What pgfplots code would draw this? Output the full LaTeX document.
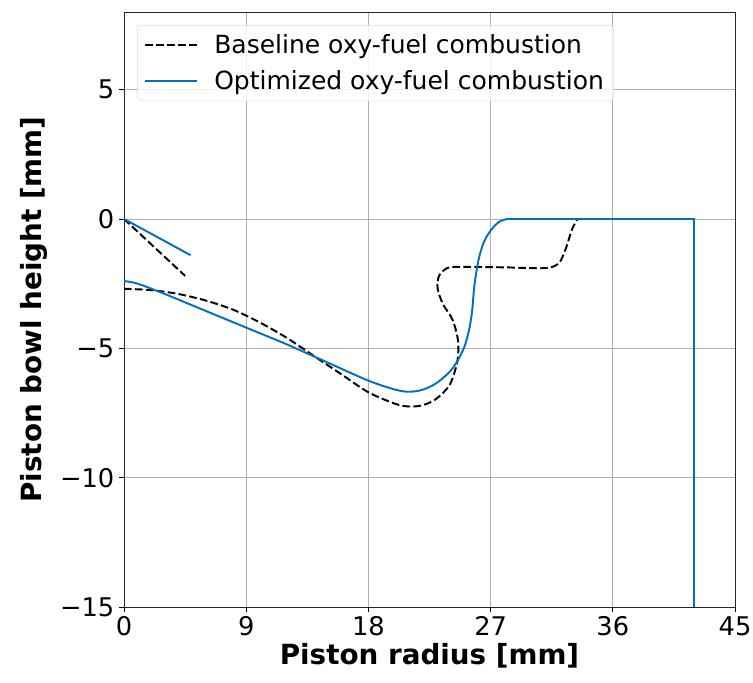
\documentclass[border=0pt]{standalone}
\usepackage{pgfplots}
\pgfplotsset{compat=1.18}
\usepackage{fontspec}
\setmainfont{DejaVu Sans}
\definecolor{optblue}{RGB}{0,114,189}
\definecolor{gridgray}{RGB}{176,176,176}
\begin{document}
\begin{tikzpicture}
\begin{axis}[
  scale only axis,
  width=439.9pt, height=428.4pt,
  xmin=0, xmax=45, ymin=-15, ymax=8,
  xtick={0,9,18,27,36,45},
  ytick={-15,-10,-5,0,5},
  yticklabels={−15,−10,−5,0,5},
  /pgf/number format/assume math mode=true,
  tick label style={font=\fontsize{18.5}{22}\selectfont},
  xlabel={Piston radius [mm]},
  ylabel={Piston bowl height [mm]},
  label style={font=\fontsize{20}{24}\selectfont\bfseries},
  xlabel style={yshift=2pt},
  ylabel style={yshift=2pt},
  grid=major,
  major grid style={gridgray, line width=0.6pt},
  tick style={black, line width=0.6pt},
  xtick pos=bottom, ytick pos=left,
  tick align=outside,
  major tick length=3.5pt,
  axis line style={line width=0.7pt, black!85},
  legend style={at={(rel axis cs:0,1)}, anchor=north west,
    xshift=9.4pt, yshift=-9.4pt,
    draw=gray!30, rounded corners=3pt,
    fill=white, fill opacity=0.8, text opacity=1, font=\fontsize{18}{21}\selectfont,
    row sep=7pt, inner xsep=5pt, inner ysep=4.5pt,
    /tikz/every odd column/.append style={column sep=10pt}},
  legend cell align=left,
  legend image code/.code={\draw[#1] (0pt,0pt) -- (37pt,0pt);},
]
% baseline
\addplot[black, dash pattern=on 5.5pt off 2.4pt, line width=1.4pt, smooth, tension=0.5] coordinates {
(0,-2.7) (2,-2.75) (4,-2.9) (6,-3.15) (8,-3.5) (10,-4.0) (12,-4.6) (14,-5.3) (16,-6.0) (18,-6.7) (20,-7.15) (21,-7.25) (22,-7.2) (23,-6.95) (24,-6.4) (24.55,-5.5) (24.6,-4.7) (24.2,-3.9) (23.5,-3.3) (23.1,-2.7) (23.2,-2.2) (23.8,-1.9) (24.7,-1.85) (28,-1.87) (31,-1.9) (32,-1.72) (32.5,-1.2) (33,-0.4) (33.4,0)
};
\addlegendentry{Baseline oxy-fuel combustion}
\addplot[black, dash pattern=on 5.5pt off 2.4pt, line width=1.4pt, forget plot] coordinates {(33.4,0) (42,0) (42,-15)};
\addplot[black, dash pattern=on 5.5pt off 2.4pt, line width=1.4pt, forget plot] coordinates {(0,0) (4.5,-2.2)};
% optimized
\addplot[optblue, line width=1.4pt, smooth, tension=0.5] coordinates {
(0,-2.4) (1,-2.5) (3,-2.9) (6,-3.55) (9,-4.2) (12,-4.85) (15,-5.55) (18,-6.25) (20,-6.6) (21,-6.68) (22,-6.6) (23,-6.35) (24,-5.9) (24.6,-5.45) (25.1,-4.9) (25.45,-4.2) (25.65,-3.5) (25.8,-2.6) (26.1,-1.6) (26.5,-0.9) (27,-0.45) (27.6,-0.12) (28.2,0)
};
\addlegendentry{Optimized oxy-fuel combustion}
\addplot[optblue, line width=1.4pt, forget plot] coordinates {(28.2,0) (42,0) (42,-15)};
\addplot[optblue, line width=1.4pt, forget plot] coordinates {(0,0) (4.9,-1.4)};
\end{axis}
\pgfresetboundingbox
\useasboundingbox ([xshift=-89.28pt, yshift=-54pt]current axis.south west) rectangle ([xshift=12.96pt, yshift=8.64pt]current axis.north east);
\end{tikzpicture}
\end{document}
